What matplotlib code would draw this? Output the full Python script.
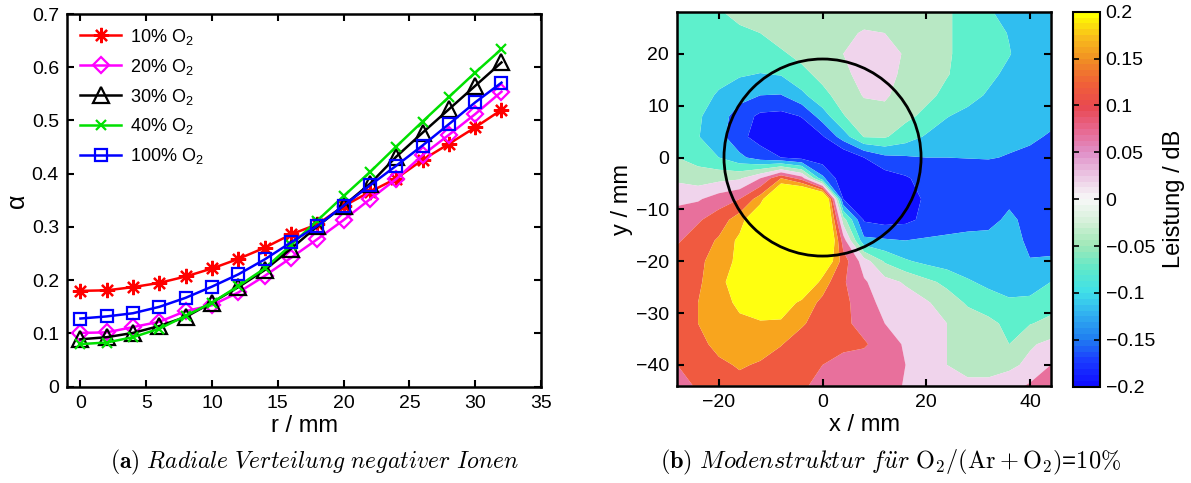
import numpy as np
import matplotlib
matplotlib.use("Agg")
import matplotlib.pyplot as plt
from matplotlib.colors import LinearSegmentedColormap, Normalize
from matplotlib.cm import ScalarMappable
from matplotlib.patches import Circle

plt.rcParams['font.family'] = ['Liberation Sans', 'DejaVu Sans']
plt.rcParams['mathtext.fontset'] = 'custom'
plt.rcParams['mathtext.rm'] = 'Liberation Sans'
plt.rcParams['mathtext.it'] = 'Liberation Sans:italic'
plt.rcParams['mathtext.bf'] = 'Liberation Sans:bold'

# (a) radial distribution of negative ions
r_mm = [0, 2, 4, 6, 8, 10, 12, 14, 16, 18, 20, 22, 24, 26, 28, 30, 32]
alpha_10 = [0.180, 0.181, 0.187, 0.195, 0.207, 0.222, 0.240, 0.261, 0.286, 0.305,
            0.339, 0.366, 0.391, 0.426, 0.456, 0.487, 0.520]
alpha_20 = [0.101, 0.102, 0.112, 0.122, 0.142, 0.153, 0.177, 0.208, 0.242, 0.277,
            0.313, 0.352, 0.390, 0.435, 0.473, 0.512, 0.554]
alpha_30 = [0.089, 0.093, 0.101, 0.114, 0.131, 0.158, 0.187, 0.219, 0.259, 0.301,
            0.340, 0.381, 0.432, 0.477, 0.521, 0.565, 0.609]
alpha_40 = [0.080, 0.083, 0.093, 0.109, 0.133, 0.158, 0.189, 0.222, 0.266, 0.312,
            0.358, 0.403, 0.451, 0.498, 0.544, 0.590, 0.634]
alpha_100 = [0.128, 0.132, 0.138, 0.150, 0.167, 0.188, 0.211, 0.239, 0.271, 0.302,
             0.340, 0.378, 0.415, 0.453, 0.493, 0.534, 0.571]
labels_a = ['10% O$_2$', '20% O$_2$', '30% O$_2$', '40% O$_2$', '100% O$_2$']

# (b) mode structure, power in dB on a 4 mm grid
x_mm = [-28, -24, -20, -16, -12, -8, -4, 0, 4, 8, 12, 16, 20, 24, 28, 32, 36, 40, 44]
y_mm = [28, 24, 20, 16, 12, 8, 4, 0, -4, -8, -12, -16, -20, -24, -28, -32, -36, -40, -44]
power_db = [
    [-0.065, -0.06, -0.045, -0.025, -0.02, -0.015, -0.015, -0.01, -0.01, -0.01, -0.01, -0.015, -0.02, -0.035, -0.055, -0.075, -0.095, -0.10, -0.10],
    [-0.07, -0.065, -0.06, -0.05, -0.04, -0.025, -0.02, -0.015, -0.005, 0.002, 0.0, -0.01, -0.02, -0.035, -0.055, -0.065, -0.082, -0.10, -0.105],
    [-0.07, -0.07, -0.065, -0.06, -0.055, -0.045, -0.03, -0.02, 0.0, 0.02, 0.02, -0.005, -0.02, -0.035, -0.055, -0.07, -0.078, -0.10, -0.11],
    [-0.065, -0.07, -0.072, -0.076, -0.082, -0.078, -0.05, -0.03, -0.01, 0.015, 0.012, -0.008, -0.022, -0.038, -0.055, -0.07, -0.09, -0.105, -0.11],
    [-0.06, -0.07, -0.083, -0.105, -0.12, -0.122, -0.09, -0.05, -0.025, 0.003, 0.005, -0.015, -0.03, -0.05, -0.065, -0.085, -0.1, -0.11, -0.112],
    [-0.06, -0.075, -0.1, -0.14, -0.168, -0.172, -0.158, -0.1, -0.042, -0.02, -0.012, -0.03, -0.05, -0.078, -0.092, -0.1, -0.105, -0.11, -0.112],
    [-0.065, -0.078, -0.105, -0.15, -0.175, -0.19, -0.185, -0.165, -0.1, -0.038, -0.036, -0.06, -0.085, -0.1, -0.105, -0.11, -0.112, -0.115, -0.123],
    [-0.04, -0.055, -0.08, -0.11, -0.14, -0.16, -0.175, -0.185, -0.2, -0.16, -0.13, -0.125, -0.12, -0.12, -0.119, -0.118, -0.122, -0.127, -0.14],
    [-0.008, -0.02, -0.012, -0.005, 0.04, 0.12, 0.06, -0.11, -0.19, -0.19, -0.18, -0.165, -0.145, -0.14, -0.14, -0.14, -0.14, -0.145, -0.15],
    [0.03, 0.035, 0.06, 0.08, 0.14, 0.28, 0.32, 0.3, -0.16, -0.19, -0.19, -0.175, -0.155, -0.145, -0.145, -0.14, -0.13, -0.14, -0.15],
    [0.06, 0.075, 0.1, 0.14, 0.22, 0.3, 0.35, 0.3, -0.02, -0.165, -0.175, -0.17, -0.15, -0.145, -0.14, -0.135, -0.11, -0.135, -0.14],
    [0.075, 0.1, 0.125, 0.17, 0.3, 0.35, 0.35, 0.3, 0.06, -0.11, -0.115, -0.12, -0.115, -0.11, -0.105, -0.105, -0.1, -0.13, -0.135],
    [0.1, 0.11, 0.14, 0.17, 0.3, 0.35, 0.32, 0.22, 0.1, 0.02, -0.045, -0.075, -0.09, -0.1, -0.105, -0.11, -0.115, -0.118, -0.115],
    [0.1, 0.115, 0.14, 0.2, 0.3, 0.3, 0.25, 0.14, 0.085, 0.045, 0.015, -0.005, -0.03, -0.05, -0.075, -0.09, -0.095, -0.1, -0.08],
    [0.1, 0.12, 0.14, 0.17, 0.22, 0.2, 0.145, 0.11, 0.09, 0.06, 0.025, 0.02, 0.005, -0.02, -0.045, -0.06, -0.075, -0.07, -0.055],
    [0.1, 0.12, 0.14, 0.15, 0.15, 0.15, 0.125, 0.1, 0.09, 0.065, 0.04, 0.02, 0.015, 0.0, -0.02, -0.03, -0.05, -0.042, -0.03],
    [0.1, 0.105, 0.135, 0.15, 0.14, 0.122, 0.1, 0.095, 0.09, 0.085, 0.06, 0.035, 0.02, 0.0, -0.02, -0.03, -0.04, -0.005, 0.01],
    [0.08, 0.095, 0.11, 0.125, 0.115, 0.1, 0.09, 0.08, 0.065, 0.06, 0.055, 0.04, 0.025, 0.0, -0.015, -0.015, -0.01, 0.01, 0.04],
    [0.065, 0.085, 0.1, 0.105, 0.1, 0.095, 0.085, 0.07, 0.06, 0.055, 0.05, 0.038, 0.025, 0.015, 0.01, 0.01, 0.025, 0.045, 0.055],
]
levels_db = [-1.0, -0.16, -0.12, -0.08, -0.04, 0.0, 0.04, 0.08, 0.12, 0.16, 1.0]
fill_colors = ['#1010ff', '#1848ff', '#30bef0', '#5ef0cc', '#b8e8c4',
               '#f0d4ec', '#e8709c', '#f05a40', '#f8a51e', '#ffff10']
cbar_ticks = [-0.2, -0.15, -0.1, -0.05, 0, 0.05, 0.1, 0.15, 0.2]
circle_radius = 19

cmap_bar = LinearSegmentedColormap.from_list('leistung', [
    (0.0, '#1010ff'), (0.0625, '#1a3cff'), (0.125, '#2080f0'), (0.1875, '#30b0f0'),
    (0.25, '#40e0e8'), (0.3125, '#60e8c8'), (0.375, '#a0e8b8'), (0.4375, '#d4f0d8'),
    (0.5, '#f8f8f8'), (0.5625, '#ecc8e4'), (0.625, '#e090c8'), (0.6875, '#e86890'),
    (0.75, '#e84850'), (0.8125, '#f06038'), (0.875, '#f08c24'), (0.9375, '#f8bc1c'),
    (1.0, '#ffff00')], N=64)


def style_axes(ax):
    ax.tick_params(direction='in', top=True, right=True, length=5, width=1.5,
                   labelsize=14, pad=6)
    for sp in ax.spines.values():
        sp.set_linewidth(1.8)


fig = plt.figure(figsize=(11.91, 4.83), dpi=100)

# ---- left panel
ax1 = fig.add_axes([0.0565, 0.1994, 0.3977, 0.7716])
series = [alpha_10, alpha_20, alpha_30, alpha_40, alpha_100]
styles = [('red', (8, 2, 0), 11), ('magenta', 'D', 8), ('black', '^', 11),
          ('#00e000', 'x', 7), ('blue', 's', 8)]
for vals, (c, m, ms), lab in zip(series, styles, labels_a):
    ax1.plot(r_mm, vals, color=c, marker=m, markersize=ms, lw=1.8,
             markerfacecolor='none', markeredgewidth=1.6, label=lab)
ax1.set_xlim(-1, 35)
ax1.set_ylim(0, 0.7)
ax1.set_xticks([0, 5, 10, 15, 20, 25, 30, 35])
ax1.set_yticks([0, 0.1, 0.2, 0.3, 0.4, 0.5, 0.6, 0.7])
ax1.set_yticklabels(['0', '0.1', '0.2', '0.3', '0.4', '0.5', '0.6', '0.7'])
ax1.set_xlabel('r / mm', fontsize=17, labelpad=2)
ax1.set_ylabel('α', fontsize=18, labelpad=2)
style_axes(ax1)
ax1.legend(loc='upper left', frameon=False, fontsize=13, handlelength=2.3,
           labelspacing=0.55, borderaxespad=0.3, handletextpad=0.5)

# ---- right panel
ax2 = fig.add_axes([0.5687, 0.2014, 0.3135, 0.7731])
ax2.contourf(x_mm, y_mm, np.array(power_db), levels=levels_db, colors=fill_colors,
             antialiased=True)
ax2.add_patch(Circle((0, 0), circle_radius, fill=False, ec='black', lw=2.0))
ax2.set_xlim(-28, 44)
ax2.set_ylim(-44, 28)
ax2.set_aspect('equal')
ax2.set_xticks([-20, 0, 20, 40])
ax2.set_yticks([-40, -30, -20, -10, 0, 10, 20])
ax2.set_xlabel('x / mm', fontsize=17, labelpad=2)
ax2.set_ylabel('y / mm', fontsize=17, labelpad=2)
style_axes(ax2)

# ---- colorbar
cax = fig.add_axes([0.9007, 0.1994, 0.0229, 0.7764])
sm = ScalarMappable(norm=Normalize(-0.2, 0.2), cmap=cmap_bar)
cb = fig.colorbar(sm, cax=cax, ticks=cbar_ticks)
cb.ax.set_yticklabels(['\u22120.2', '\u22120.15', '\u22120.1', '\u22120.05', '0',
                       '0.05', '0.1', '0.15', '0.2'])
cb.ax.tick_params(direction='in', left=True, right=True, length=4, width=1.2,
                  labelsize=14, pad=4)
cb.outline.set_linewidth(1.5)
cb.set_label('Leistung / dB', fontsize=17, labelpad=6)

# ---- captions
fig.text(0.264, 0.043, r'$\mathbf{(a)}\ \mathit{Radiale\ Verteilung\ negativer\ Ionen}$',
         fontsize=17, ha='center', va='center', math_fontfamily='cm')
fig.text(0.748, 0.043,
         r'$\mathbf{(b)}\ \mathit{Modenstruktur\ f\ddot{u}r}\ \mathrm{O}_2/(\mathrm{Ar}+\mathrm{O}_2)$=$\mathit{10\%}$',
         fontsize=17.5, ha='center', va='center', math_fontfamily='cm')

fig.savefig('out.png', dpi=100)
